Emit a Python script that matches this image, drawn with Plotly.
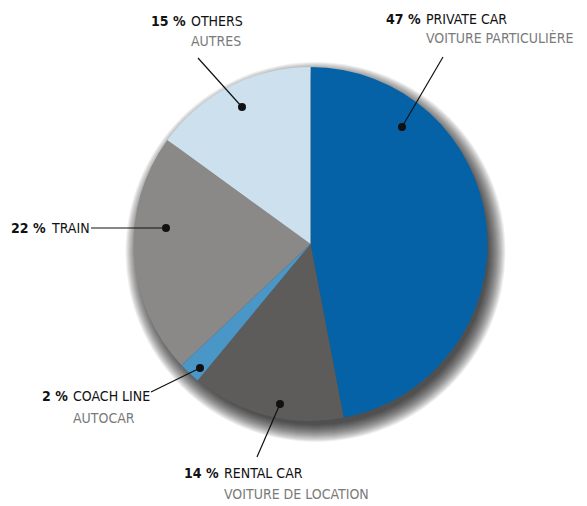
import plotly.graph_objects as go

# ---- data ----
categories_en = ["PRIVATE CAR", "RENTAL CAR", "COACH LINE", "TRAIN", "OTHERS"]
categories_fr = ["VOITURE PARTICULIÈRE", "VOITURE DE LOCATION", "AUTOCAR", "", "AUTRES"]
shares = [47, 14, 2, 22, 15]
colors = ["#0562a7", "#5e5c5b", "#4a96c7", "#8b8987", "#cde0ed"]

W, H = 587, 506
FONT = "DejaVu Sans Condensed, Liberation Sans Narrow, sans-serif"
FS = 14

# pie geometry (pixels)
cx, cy, r = 310.5, 244, 177

fig = go.Figure()
fig.add_trace(go.Pie(
    values=shares, labels=categories_en, sort=False, direction="clockwise", rotation=0,
    marker=dict(colors=colors, line=dict(width=0)),
    textinfo="none", hoverinfo="skip", showlegend=False,
    domain=dict(x=[(cx - r) / W, (cx + r) / W], y=[(H - cy - r) / H, (H - cy + r) / H]),
))

shapes = []
# soft drop shadow (offset to bottom-right)
n = 18
for i in range(n):
    rr = r - 4 + i * 1.0
    ox, oy = cx + 5, cy + 8
    shapes.append(dict(type="circle", xref="x", yref="y", x0=ox - rr, x1=ox + rr, y0=oy - rr, y1=oy + rr,
                       fillcolor="rgba(0,0,0,0.06)", line=dict(width=0), layer="below"))

# leader lines: (dot x, dot y, end x, end y)
leaders = [
    (402, 127, 443, 57),
    (280, 404, 257, 457),
    (200, 368, 151, 392),
    (166, 228, 91, 228),
    (242, 107, 198, 58),
]
for dx, dy, ex, ey in leaders:
    shapes.append(dict(type="line", xref="x", yref="y", x0=dx, y0=dy, x1=ex, y1=ey,
                       line=dict(color="#111111", width=1.2), layer="above"))
    rd = 4
    shapes.append(dict(type="circle", xref="x", yref="y", x0=dx - rd, x1=dx + rd, y0=dy - rd, y1=dy + rd,
                       fillcolor="#111111", line=dict(width=0), layer="above"))

# label placement: (name x, line1 y, line2 y)
label_pos = [
    (425, 19, 38),
    (223, 473, 494),
    (72, 396, 418),
    (50, 228, None),
    (190, 21, 41),
]
ann = []
for (nx, y1, y2), pct, en, fr in zip(label_pos, shares, categories_en, categories_fr):
    ann.append(dict(x=nx - 2, y=y1, xref="x", yref="y", text=f"<b>{pct} %</b>", showarrow=False,
                    xanchor="right", yanchor="middle", font=dict(family=FONT, size=FS, color="#111111")))
    ann.append(dict(x=nx - 1, y=y1, xref="x", yref="y", text=en, showarrow=False,
                    xanchor="left", yanchor="middle", font=dict(family=FONT, size=FS, color="#111111")))
    if fr and y2 is not None:
        ann.append(dict(x=nx - 1, y=y2, xref="x", yref="y", text=fr, showarrow=False,
                        xanchor="left", yanchor="middle", font=dict(family=FONT, size=FS, color="#7a7a7a")))

fig.update_layout(
    width=W, height=H, margin=dict(l=0, r=0, t=0, b=0),
    paper_bgcolor="white", plot_bgcolor="rgba(0,0,0,0)",
    xaxis=dict(range=[0, W], visible=False, fixedrange=True),
    yaxis=dict(range=[H, 0], visible=False, fixedrange=True),
    shapes=shapes, annotations=ann,
)
fig.write_html("out.html", config={"displayModeBar": False},
               post_script="document.body.style.margin='0';document.body.style.overflow='hidden';")
